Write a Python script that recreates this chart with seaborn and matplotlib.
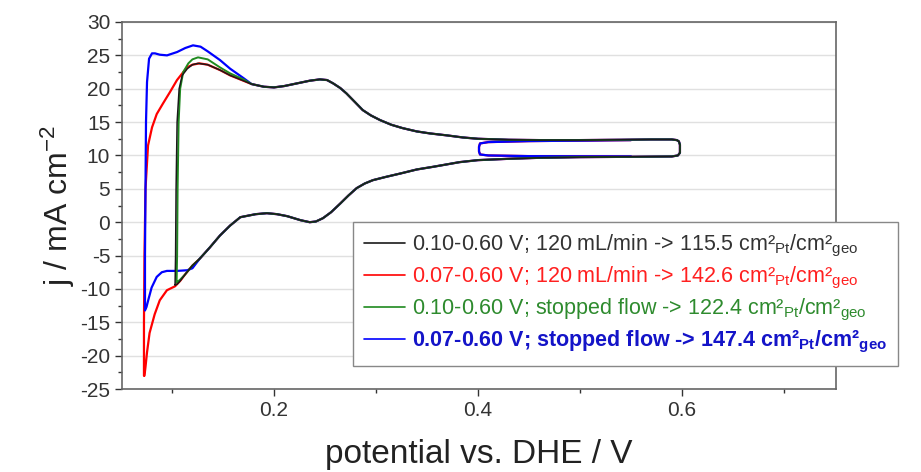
import pandas as pd
import matplotlib
matplotlib.use('Agg')
import matplotlib.pyplot as plt
from matplotlib.ticker import MultipleLocator, FormatStrFormatter
import seaborn as sns

# shared part of the anodic sweep (all four CVs overlap here)
anodic_x = [0.178, 0.19, 0.20, 0.21, 0.2225, 0.235, 0.245, 0.252, 0.258, 0.265, 0.271, 0.28, 0.287,
            0.295, 0.304, 0.315, 0.326, 0.34, 0.353, 0.37, 0.385, 0.40, 0.43, 0.46, 0.50, 0.54, 0.57,
            0.59, 0.595]
anodic_j = [20.7, 20.3, 20.2, 20.4, 20.8, 21.2, 21.4, 21.3, 20.8, 20.1, 19.3, 17.9, 16.8,
            16.0, 15.3, 14.6, 14.1, 13.6, 13.3, 13.0, 12.7, 12.5, 12.35, 12.3, 12.3, 12.35, 12.4,
            12.4, 12.3]

# shared part of the cathodic sweep (0.6 V back down to ~0.127 V)
cathodic_x = [0.597, 0.598, 0.598, 0.596, 0.59, 0.55, 0.50, 0.46, 0.43, 0.40, 0.382, 0.356, 0.34,
              0.324, 0.31, 0.297, 0.289, 0.281, 0.273, 0.265, 0.256, 0.248, 0.241, 0.235, 0.226,
              0.213, 0.203, 0.193, 0.182, 0.167, 0.157, 0.147, 0.137, 0.127]
cathodic_j = [12.1, 11.6, 10.4, 10.0, 9.85, 9.8, 9.75, 9.65, 9.5, 9.3, 9.0, 8.3, 7.9,
              7.3, 6.8, 6.3, 5.8, 5.1, 4.0, 2.8, 1.5, 0.6, 0.1, 0.0, 0.3,
              0.9, 1.2, 1.35, 1.2, 0.75, -0.5, -2.0, -3.8, -5.5]

# low-potential ends, one per experiment
black_tail_x = [0.12, 0.113, 0.108, 0.105, 0.103]
black_tail_j = [-6.5, -7.8, -8.8, -9.3, -9.4]
black_start_x = [0.103, 0.1035, 0.104, 0.105, 0.107, 0.11, 0.115, 0.12, 0.1255, 0.135, 0.147, 0.157, 0.17]
black_start_j = [-9.4, -5, 5, 15, 20, 22.0, 23.0, 23.6, 23.8, 23.6, 22.8, 22.0, 21.2]

red_tail_x = [0.12, 0.113, 0.108, 0.103, 0.095, 0.088, 0.083, 0.078, 0.0755, 0.074, 0.073]
red_tail_j = [-6.5, -7.8, -8.8, -9.6, -10.2, -11.7, -13.8, -16.6, -19.5, -21.7, -23.0]
red_start_x = [0.0725, 0.0725, 0.073, 0.074, 0.0765, 0.0804, 0.085, 0.0912, 0.098, 0.1049, 0.1147,
               0.12, 0.127, 0.135, 0.147, 0.157, 0.17]
red_start_j = [-23.0, -15, -5, 5, 11.5, 14.2, 16.2, 17.8, 19.5, 21.3, 23.2,
               23.6, 23.8, 23.6, 22.8, 22.0, 21.2]

green_tail_x = [0.12, 0.113, 0.108, 0.105, 0.1045]
green_tail_j = [-6.5, -7.8, -8.6, -9.0, -9.0]
green_start_x = [0.1045, 0.105, 0.1055, 0.1065, 0.108, 0.111, 0.116, 0.12, 0.1255, 0.135, 0.147, 0.157, 0.17]
green_start_j = [-9.0, -5, 5, 15, 20, 22.5, 23.8, 24.4, 24.7, 24.4, 23.2, 22.3, 21.4]

blue_tail_x = [0.12, 0.115, 0.105, 0.095, 0.09, 0.085, 0.080, 0.077, 0.075, 0.0735]
blue_tail_j = [-6.9, -7.2, -7.3, -7.3, -7.5, -8.2, -9.8, -11.5, -12.7, -13.2]
blue_start_x = [0.0735, 0.0735, 0.074, 0.0745, 0.0755, 0.0775, 0.0804, 0.0833, 0.088, 0.0951, 0.105,
                0.113, 0.1206, 0.128, 0.135, 0.147, 0.157, 0.17]
blue_start_j = [-13.2, -5, 5, 15, 21, 24.5, 25.3, 25.3, 25.1, 25.0, 25.5,
                26.1, 26.5, 26.3, 25.6, 24.3, 23.0, 21.6]

# narrow 0.40-0.60 V loop seen on the red and blue runs
loop_x = [0.55, 0.45, 0.41, 0.402, 0.401, 0.401, 0.402, 0.41, 0.45, 0.55]
loop_j = [12.3, 12.15, 12.0, 11.8, 11.3, 10.6, 10.15, 10.0, 9.9, 9.85]

labels = [
    r"0.10-0.60 V; 120 mL/min -> 115.5 cm²$_{\mathrm{Pt}}$/cm²$_{\mathrm{geo}}$",
    r"0.07-0.60 V; 120 mL/min -> 142.6 cm²$_{\mathrm{Pt}}$/cm²$_{\mathrm{geo}}$",
    r"0.10-0.60 V; stopped flow -> 122.4 cm²$_{\mathrm{Pt}}$/cm²$_{\mathrm{geo}}$",
    r"0.07-0.60 V; stopped flow -> 147.4 cm²$_{\mathbf{Pt}}$/cm²$_{\mathbf{geo}}$",
]
colors = ['#1a1a1a', '#ff0000', '#1f8a1f', '#0000ff']
text_colors = ['#333333', '#ff2020', '#2e8b2e', '#1414c8']
# zorder / width per colour: red and blue under black, so they show as a fringe
draw_order = {'#1a1a1a': (5, 1.1), '#ff0000': (2, 1.6), '#1f8a1f': (4, 1.4), '#0000ff': (3, 1.6)}

starts = [(black_start_x, black_start_j), (red_start_x, red_start_j),
          (green_start_x, green_start_j), (blue_start_x, blue_start_j)]
tails = [(black_tail_x, black_tail_j), (red_tail_x, red_tail_j),
         (green_tail_x, green_tail_j), (blue_tail_x, blue_tail_j)]
has_loop = [False, True, False, True]

rows = []
for lab, (sx, sj), (tx, tj), loop in zip(labels, starts, tails, has_loop):
    xs = sx + anodic_x + cathodic_x + tx
    js = sj + anodic_j + cathodic_j + tj
    for i, (x, j) in enumerate(zip(xs, js)):
        rows.append({'E': x, 'j': j, 'run': lab, 'seg': 0, 'n': i})
    if loop:
        for i, (x, j) in enumerate(zip(loop_x, loop_j)):
            rows.append({'E': x, 'j': j, 'run': lab, 'seg': 1, 'n': i})
df = pd.DataFrame(rows)

sns.set_style('ticks')
plt.rcParams['font.family'] = ['Liberation Sans', 'DejaVu Sans']
plt.rcParams['mathtext.fontset'] = 'custom'
plt.rcParams['mathtext.rm'] = 'Liberation Sans'
plt.rcParams['mathtext.it'] = 'Liberation Sans:italic'
plt.rcParams['mathtext.bf'] = 'Liberation Sans:bold'
plt.rcParams['axes.unicode_minus'] = False

fig = plt.figure(figsize=(9.21, 4.72), dpi=100)
ax = fig.add_axes([0.1325, 0.1758, 0.7752, 0.7776])

sns.lineplot(data=df, x='E', y='j', hue='run', units='seg', estimator=None, sort=False,
             hue_order=labels, palette=dict(zip(labels, colors)), linewidth=1.4, ax=ax)
for line in ax.lines:
    c = matplotlib.colors.to_hex(line.get_color())
    if c in draw_order:
        z, lw = draw_order[c]
        line.set_zorder(z)
        line.set_linewidth(lw)

ax.set_xlim(0.051, 0.751)
ax.set_ylim(-25, 30)
ax.xaxis.set_major_locator(MultipleLocator(0.2))
ax.xaxis.set_minor_locator(MultipleLocator(0.1))
ax.xaxis.set_major_formatter(FormatStrFormatter('%.1f'))
ax.yaxis.set_major_locator(MultipleLocator(5))
ax.yaxis.set_minor_locator(MultipleLocator(2.5))
ax.tick_params(which='major', direction='out', length=5, width=1, labelsize=15, colors='#333333')
ax.tick_params(which='minor', direction='out', length=3, width=1, colors='#333333')
ax.yaxis.grid(True, which='major', color='#e0e0e0', linewidth=1)
for s in ax.spines.values():
    s.set_visible(True)
    s.set_color('#666666')
    s.set_linewidth(1.2)

ax.set_xlabel('potential vs. DHE / V', fontsize=24, color='#222222', labelpad=14)
ax.set_ylabel(r'j / mA cm$^{-2}$', fontsize=23, color='#222222', labelpad=2)

handles, labs = ax.get_legend_handles_labels()
leg = ax.legend(handles, labs, loc='upper left', bbox_to_anchor=(353 / 921, 1 - 222 / 472),
                bbox_transform=fig.transFigure, borderaxespad=0, fontsize=15.5, frameon=True,
                fancybox=False, framealpha=1, edgecolor='#888888', handlelength=1.9,
                handletextpad=0.35, labelspacing=0.28, borderpad=0.5)
for t, c in zip(leg.get_texts(), text_colors):
    t.set_color(c)
leg.get_texts()[3].set_fontweight('bold')
for h, c in zip(leg.get_lines(), colors):
    h.set_linewidth(1.2)
leg.set_zorder(10)

fig.savefig('out.png', dpi=100)
